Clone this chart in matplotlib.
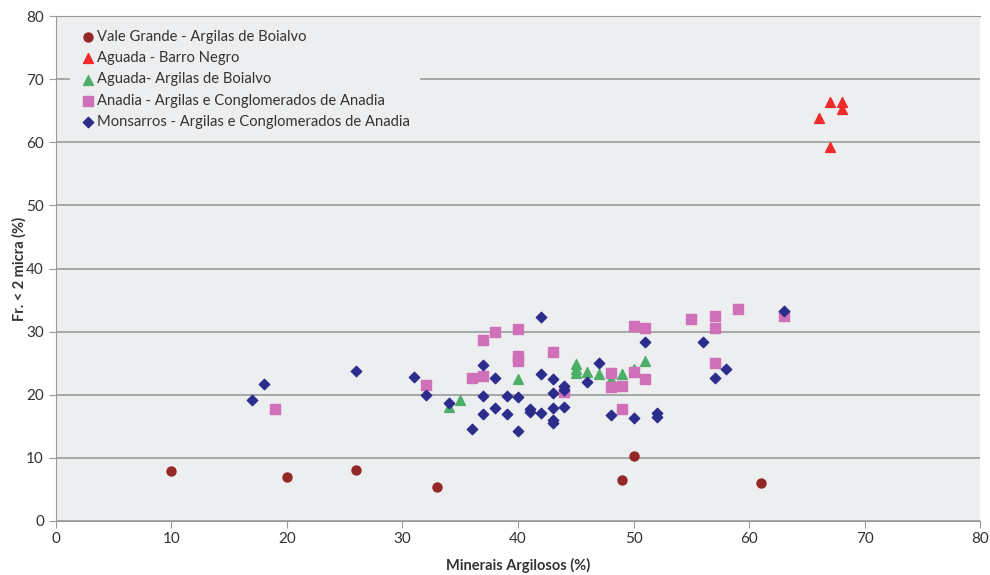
import matplotlib
matplotlib.use("Agg")
import matplotlib.pyplot as plt

plt.rcParams['font.family'] = ['Lato', 'DejaVu Sans']

# Vale Grande - Argilas de Boialvo
vg_x = [10, 20, 26, 33, 49, 50, 61]
vg_y = [7.8, 7.0, 8.0, 5.3, 6.5, 10.3, 5.9]

# Aguada - Barro Negro
abn_x = [66, 67, 67, 68, 68]
abn_y = [63.9, 66.4, 59.2, 66.4, 65.3]

# Aguada- Argilas de Boialvo
aab_x = [34, 35, 40, 45, 45, 45, 46, 47, 48, 49, 50, 51]
aab_y = [18.1, 19.2, 22.5, 24.8, 24.1, 23.4, 23.6, 23.3, 22.4, 23.3, 24.0, 25.3]

# Anadia - Argilas e Conglomerados de Anadia
an_x = [19, 32, 36, 37, 37, 38, 40, 40, 40, 43, 44, 48, 48, 49, 49, 50,
        50, 51, 51, 55, 57, 57, 57, 59, 63]
an_y = [17.7, 21.6, 22.7, 28.6, 22.9, 29.9, 30.4, 26.1, 25.4, 26.8, 20.4, 23.4,
        21.2, 21.3, 17.7, 23.6, 30.9, 30.5, 22.4, 32.0, 32.4, 30.5, 25.0, 33.5, 32.4]

# Monsarros - Argilas e Conglomerados de Anadia
mo_x = [17, 18, 26, 31, 32, 34, 36, 37, 37, 37, 38, 38, 39, 39, 40, 40, 41, 41,
        42, 42, 42, 43, 43, 43, 43, 43, 44, 44, 44, 46, 47, 48, 50, 51, 52, 52,
        56, 57, 58, 63]
mo_y = [19.2, 21.7, 23.7, 22.8, 20.0, 18.7, 14.6, 24.7, 19.8, 17.0, 22.6, 17.8,
        19.8, 16.9, 19.6, 14.2, 17.7, 17.3, 32.3, 23.3, 17.1, 22.5, 20.3, 17.8,
        16.0, 15.5, 21.3, 20.8, 18.0, 22.0, 25.0, 16.8, 16.3, 28.3, 17.1, 16.4,
        28.4, 22.7, 24.1, 33.3]

fig = plt.figure(figsize=(9.9, 5.75), dpi=100)
ax = fig.add_axes([0.0563, 0.0945, 0.934, 0.877])
ax.set_facecolor("#ECEEF0")

ax.scatter(vg_x, vg_y, marker="o", s=42, c="#942828", label="Vale Grande - Argilas de Boialvo", zorder=3)
ax.scatter(abn_x, abn_y, marker="^", s=50, c="#F22A2A", label="Aguada - Barro Negro", zorder=3)
ax.scatter(aab_x, aab_y, marker="^", s=50, c="#4DAE68", label="Aguada- Argilas de Boialvo", zorder=3)
ax.scatter(an_x, an_y, marker="s", s=45, c="#D070B8", label="Anadia - Argilas e Conglomerados de Anadia", zorder=3)
ax.scatter(mo_x, mo_y, marker="D", s=28, c="#2B2C8C", label="Monsarros - Argilas e Conglomerados de Anadia", zorder=4)

ax.set_xlim(0, 80)
ax.set_ylim(0, 80)
ax.set_xticks(range(0, 81, 10))
ax.set_yticks(range(0, 81, 10))
ax.grid(axis="y", color="#9A9A9A", linewidth=1.2, zorder=1)
ax.set_axisbelow(True)

ax.spines["right"].set_visible(False)
ax.spines["top"].set_color("#9A9A9A")
ax.spines["left"].set_color("#9A9A9A")
ax.spines["bottom"].set_color("#9A9A9A")
ax.tick_params(colors="#9A9A9A", labelcolor="#333333", labelsize=11, length=5)

ax.set_xlabel("Minerais Argilosos (%)", fontsize=10.5, fontweight="bold", color="#333333", labelpad=8)
ax.set_ylabel("Fr. < 2 micra (%)", fontsize=10.5, fontweight="bold", color="#333333", labelpad=0)

leg = ax.legend(loc="upper left", bbox_to_anchor=(0.0155, 0.994), frameon=True, fontsize=10.6,
                handletextpad=0.15, handlelength=1.0, labelspacing=0.5,
                borderaxespad=0.0, borderpad=0.7, scatterpoints=1)
leg.get_frame().set_facecolor("#ECEEF0")
leg.get_frame().set_edgecolor("none")
leg.get_frame().set_alpha(1)
leg.get_frame().set_boxstyle("square", pad=0.0)
for t in leg.get_texts():
    t.set_color("#333333")

fig.savefig("out.png", dpi=100, facecolor="white")
